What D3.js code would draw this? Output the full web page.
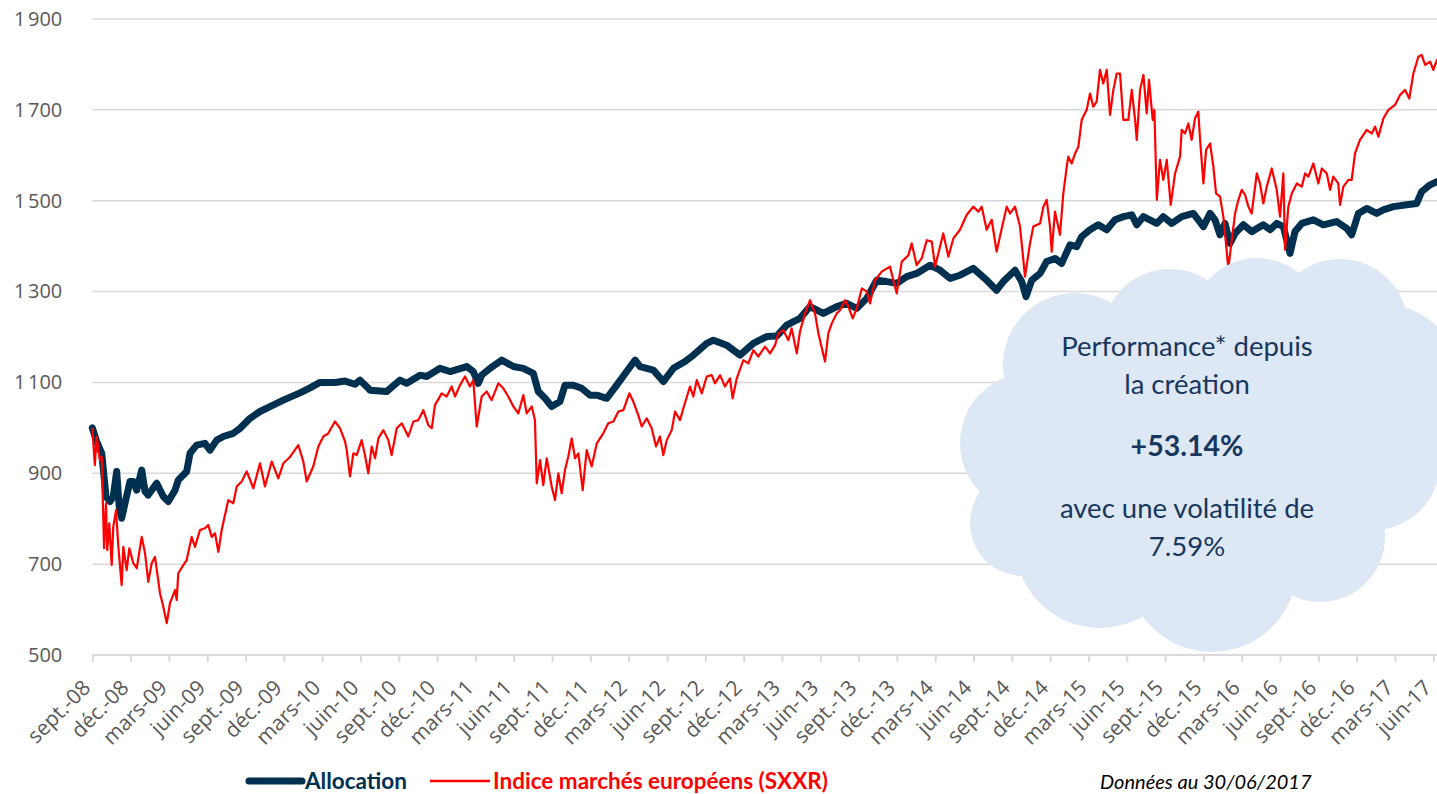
<!DOCTYPE html>
<html><head><meta charset="utf-8">
<script src="https://cdn.jsdelivr.net/npm/d3@7"></script>
<style>
html,body{margin:0;padding:0;background:#fff;}
svg{display:block;}
</style></head>
<body>
<svg id="chart" width="1437" height="794"></svg>
<script>
// ---- Data (x = months since sept. 2008) ----
const xLabels = ["sept.-08","déc.-08","mars-09","juin-09","sept.-09","déc.-09","mars-10","juin-10","sept.-10","déc.-10","mars-11","juin-11","sept.-11","déc.-11","mars-12","juin-12","sept.-12","déc.-12","mars-13","juin-13","sept.-13","déc.-13","mars-14","juin-14","sept.-14","déc.-14","mars-15","juin-15","sept.-15","déc.-15","mars-16","juin-16","sept.-16","déc.-16","mars-17","juin-17"];
const xTickMonths = [0,3,6,9,12,15,18,21,24,27,30,33,36,39,42,45,48,51,54,57,60,63,66,69,72,75,78,81,84,87,90,93,96,99,102,105];
const yTicks = [500,700,900,1100,1300,1500,1700,1900];

const allocation = [[0,1000],[0.34,970],[0.74,944],[1.07,849],[1.38,838],[1.64,849],[1.91,904],[2.11,826],[2.3,801],[2.56,834],[2.95,882],[3.21,882],[3.48,863],[3.87,907],[4.13,860],[4.38,852],[5.04,878],[5.56,849],[5.95,838],[6.48,863],[6.73,885],[7.39,904],[7.65,944],[8.17,962],[8.82,966],[9.22,951],[9.74,973],[10.26,981],[11.04,988],[11.57,999],[12.35,1021],[13.13,1036],[13.91,1047],[14.96,1061],[16.26,1077],[17.05,1088],[17.83,1100],[19.0,1100],[19.79,1103],[20.57,1096],[20.96,1105],[21.51,1090],[21.74,1083],[23.05,1080],[24.09,1105],[24.62,1098],[25.66,1116],[26.18,1113],[27.23,1131],[28.01,1124],[29.32,1135],[29.83,1124],[30.22,1098],[30.49,1116],[31.14,1131],[32.06,1149],[32.97,1135],[33.75,1131],[34.53,1120],[34.92,1080],[35.45,1065],[35.97,1047],[36.62,1058],[37.01,1094],[37.66,1094],[38.32,1087],[38.97,1072],[39.5,1072],[40.28,1065],[41.06,1094],[41.84,1124],[42.5,1149],[42.89,1135],[43.93,1127],[44.71,1102],[45.5,1131],[46.41,1146],[47.06,1160],[48.11,1186],[48.63,1193],[49.67,1182],[50.72,1160],[51.76,1186],[52.81,1201],[53.59,1202],[54.37,1226],[55.41,1241],[56.2,1267],[57.24,1252],[58.29,1267],[59.07,1274],[59.86,1263],[60.64,1285],[61.42,1325],[62.2,1322],[62.99,1318],[63.77,1333],[64.55,1340],[65.59,1358],[66.38,1347],[67.16,1329],[67.94,1336],[68.98,1351],[70.03,1325],[70.81,1303],[71.33,1322],[72.25,1347],[72.77,1322],[73.11,1289],[73.56,1325],[74.21,1340],[74.73,1366],[75.38,1373],[75.9,1362],[76.56,1403],[77.08,1399],[77.47,1421],[78.12,1436],[78.77,1447],[79.43,1436],[80.08,1458],[80.73,1465],[81.39,1469],[81.78,1447],[82.3,1465],[83.35,1450],[83.86,1465],[84.52,1450],[85.3,1465],[86.21,1472],[87.0,1443],[87.52,1472],[87.91,1458],[88.3,1425],[88.69,1450],[89.08,1406],[89.48,1428],[90.13,1447],[90.78,1432],[91.69,1447],[92.22,1436],[92.74,1450],[93.26,1443],[93.78,1384],[94.17,1432],[94.7,1450],[95.61,1458],[96.39,1447],[97.43,1454],[98.22,1439],[98.61,1425],[99.13,1472],[99.79,1483],[100.57,1472],[101.09,1480],[101.87,1487],[102.92,1491],[103.7,1494],[104.09,1520],[104.75,1535],[105.29,1542],[105.6,1545]];

const sxxr = [[0,1000],[0.2,918],[0.34,981],[0.6,929],[0.74,936],[0.92,735],[1.07,834],[1.17,731],[1.33,790],[1.52,698],[1.64,782],[1.86,819],[2.04,738],[2.3,654],[2.43,738],[2.69,687],[2.9,735],[3.21,702],[3.48,691],[3.87,760],[4.13,724],[4.38,661],[4.65,702],[4.91,716],[5.3,636],[5.56,606],[5.83,570],[6.08,614],[6.48,643],[6.61,621],[6.73,680],[7.13,698],[7.39,709],[7.78,760],[8.04,738],[8.43,775],[8.82,779],[9.08,786],[9.35,760],[9.61,768],[9.87,727],[10.13,775],[10.39,808],[10.65,841],[11.04,834],[11.31,871],[11.7,882],[12.09,904],[12.61,867],[13.13,922],[13.52,871],[14.05,926],[14.56,889],[14.96,922],[15.48,936],[16.13,962],[16.52,926],[16.79,882],[17.3,915],[17.7,959],[18.09,981],[18.48,988],[19.0,1014],[19.4,999],[19.79,970],[19.92,951],[20.18,893],[20.44,944],[20.7,940],[21.09,973],[21.35,940],[21.61,900],[21.88,959],[22.14,933],[22.4,977],[22.79,995],[23.18,973],[23.44,940],[23.84,999],[24.23,1010],[24.74,981],[25.14,1014],[25.53,1017],[25.92,1039],[26.31,1006],[26.58,999],[26.83,1050],[27.36,1076],[27.75,1069],[28.14,1091],[28.4,1069],[28.79,1094],[29.18,1113],[29.57,1091],[29.83,1105],[30.1,1003],[30.49,1069],[30.88,1080],[31.27,1061],[31.79,1098],[32.18,1087],[32.57,1069],[32.97,1047],[33.36,1032],[33.75,1072],[34.01,1032],[34.41,1047],[34.66,1017],[34.8,878],[35.06,929],[35.31,874],[35.58,933],[35.97,871],[36.23,841],[36.49,900],[36.75,856],[37.01,907],[37.27,937],[37.54,977],[37.8,933],[38.06,944],[38.4,863],[38.71,951],[39.1,915],[39.5,966],[40.01,988],[40.4,1010],[40.8,1014],[41.19,1036],[41.58,1039],[42.05,1076],[42.36,1058],[42.75,1028],[43.02,1003],[43.41,1021],[43.8,999],[44.14,959],[44.45,981],[44.71,940],[44.98,973],[45.37,995],[45.63,1036],[46.02,1017],[46.28,1043],[46.8,1091],[47.06,1069],[47.33,1105],[47.72,1076],[48.11,1113],[48.5,1116],[48.76,1098],[49.15,1116],[49.54,1091],[49.93,1109],[50.14,1065],[50.46,1109],[50.98,1149],[51.37,1142],[51.76,1171],[52.15,1157],[52.67,1179],[53.07,1164],[53.46,1182],[53.72,1208],[54.11,1215],[54.5,1193],[54.76,1219],[55.16,1164],[55.41,1212],[55.81,1252],[56.2,1281],[56.59,1252],[56.85,1208],[57.37,1146],[57.63,1208],[57.9,1230],[58.29,1252],[58.55,1259],[58.94,1281],[59.2,1267],[59.54,1241],[59.86,1263],[60.25,1307],[60.64,1300],[60.9,1274],[61.29,1325],[61.81,1344],[62.46,1355],[62.72,1325],[62.99,1296],[63.38,1366],[63.9,1380],[64.16,1406],[64.55,1358],[64.94,1373],[65.34,1413],[65.73,1410],[65.99,1355],[66.38,1399],[66.63,1428],[67.03,1377],[67.42,1417],[67.94,1436],[68.47,1469],[68.98,1487],[69.38,1476],[69.64,1487],[70.03,1436],[70.42,1458],[70.81,1388],[71.21,1439],[71.6,1487],[71.86,1472],[72.25,1487],[72.64,1443],[73.03,1333],[73.42,1406],[73.68,1443],[74.21,1450],[74.47,1487],[74.73,1502],[74.99,1443],[75.12,1388],[75.38,1476],[75.77,1425],[76.03,1516],[76.3,1575],[76.42,1597],[76.69,1582],[76.95,1604],[77.21,1619],[77.47,1678],[77.86,1700],[78.12,1736],[78.38,1707],[78.64,1718],[78.9,1788],[79.16,1758],[79.43,1788],[79.69,1689],[79.95,1744],[80.21,1780],[80.47,1780],[80.73,1678],[81.12,1678],[81.39,1744],[81.65,1678],[81.78,1634],[82.04,1744],[82.3,1777],[82.56,1692],[82.74,1766],[83.03,1678],[83.16,1700],[83.35,1502],[83.6,1590],[83.86,1546],[84.13,1590],[84.44,1491],[84.78,1560],[85.17,1597],[85.3,1656],[85.56,1648],[85.82,1670],[86.08,1634],[86.34,1681],[86.6,1696],[86.74,1634],[87.0,1538],[87.21,1612],[87.52,1626],[87.78,1575],[87.99,1516],[88.3,1509],[88.56,1465],[88.69,1428],[88.95,1351],[89.22,1414],[89.48,1472],[89.74,1502],[90.0,1524],[90.26,1513],[90.52,1487],[90.78,1472],[91.18,1560],[91.43,1538],[91.69,1494],[91.96,1531],[92.35,1571],[92.74,1524],[93.0,1465],[93.26,1560],[93.39,1392],[93.65,1487],[93.92,1516],[94.31,1538],[94.7,1531],[94.96,1560],[95.22,1553],[95.61,1582],[96.0,1538],[96.27,1571],[96.66,1560],[96.92,1524],[97.17,1553],[97.56,1538],[97.7,1491],[97.96,1531],[98.35,1546],[98.61,1546],[98.87,1604],[99.26,1634],[99.79,1656],[100.18,1648],[100.44,1663],[100.7,1641],[101.09,1681],[101.48,1700],[102.01,1711],[102.4,1733],[102.79,1744],[103.12,1725],[103.44,1780],[103.83,1817],[104.09,1821],[104.36,1799],[104.75,1806],[105.0,1788],[105.29,1810],[105.6,1800]];

const seriesNames = ["Allocation","Indice marchés européens (SXXR)"];
const cloudLines = ["Performance* depuis","la création","+53.14%","avec une volatilité de","7.59%"];
const footnote = "Données au 30/06/2017";

// ---- Layout ----
const W = 1437, H = 794;
const pLeft = 92.3, pRight = 1433.3, pTop = 19, pBottom = 655;
const svg = d3.select("#chart");
const x = d3.scaleLinear().domain([0,105]).range([pLeft,pRight]);
const y = d3.scaleLinear().domain([500,1900]).range([pBottom,pTop]);

const BLUE = "#00304f", RED = "#ff0000", GRID = "#d9d9d9", LABEL = "#595959";

// gridlines
svg.append("g").selectAll("line").data(yTicks.slice(1)).join("line")
  .attr("x1", pLeft).attr("x2", W).attr("y1", d=>y(d)).attr("y2", d=>y(d))
  .attr("stroke", GRID).attr("stroke-width", 1.5);

// y axis labels
const yAxis = d3.axisLeft(y).tickValues(yTicks).tickSize(0).tickPadding(30)
  .tickFormat(d => d3.format(",")(d).replace(",", "\u202F"));
const gy = svg.append("g").attr("transform", `translate(${pLeft},0)`).call(yAxis);
gy.select(".domain").remove();
gy.selectAll("text").attr("font-family","'Open Sans', sans-serif").attr("font-size",20).attr("fill",LABEL);

// x axis
const xAxis = d3.axisBottom(x).tickValues(xTickMonths).tickSize(7).tickFormat((d,i)=>xLabels[i]);
const gx = svg.append("g").attr("transform", `translate(0,${pBottom})`).call(xAxis);
gx.select(".domain").remove();
gx.selectAll(".tick line").attr("stroke", GRID).attr("stroke-width", 2);
gx.selectAll(".tick text")
  .attr("font-family","'Open Sans', sans-serif").attr("font-size",21).attr("fill",LABEL)
  .attr("text-anchor","end").attr("dy",null).attr("y",null)
  .attr("transform","translate(-1,34) rotate(-45)");
svg.append("line").attr("x1",pLeft).attr("x2",W).attr("y1",pBottom).attr("y2",pBottom)
  .attr("stroke",GRID).attr("stroke-width",2);

// lines
const line = d3.line().x(d=>x(d[0])).y(d=>y(d[1]));
svg.append("path").datum(allocation).attr("d",line).attr("fill","none")
  .attr("stroke",BLUE).attr("stroke-width",7).attr("stroke-linejoin","round").attr("stroke-linecap","round");
svg.append("path").datum(sxxr).attr("d",line).attr("fill","none")
  .attr("stroke",RED).attr("stroke-width",2.2).attr("stroke-linejoin","round");

// cloud
const cloud = svg.append("g").attr("fill","#dde8f4");
const bubbles = [[1075,365,72],[1170,337,68],[1257,323,65],[1340,327,68],[1377,393,90],[1373,463,67],
  [1320,537,65],[1212,567,85],[1100,543,85],[1023,523,53],[1030,443,70],[1200,450,150]];
cloud.selectAll("circle").data(bubbles).join("circle")
  .attr("cx",d=>d[0]).attr("cy",d=>d[1]).attr("r",d=>d[2]);
const cloudY = [356,394,456,518,556];
svg.append("g").selectAll("text").data(cloudLines).join("text")
  .attr("x",1187).attr("y",(d,i)=>cloudY[i]).attr("text-anchor","middle")
  .attr("font-family","Lato, sans-serif").attr("font-size",(d,i)=>i===2?28.5:27.5)
  .attr("font-weight",(d,i)=>i===2?"bold":"normal").attr("fill","#17375e").text(d=>d);

// legend
const lg = svg.append("g");
lg.append("line").attr("x1",249).attr("x2",302).attr("y1",781).attr("y2",781)
  .attr("stroke",BLUE).attr("stroke-width",7).attr("stroke-linecap","round");
lg.append("text").attr("x",305).attr("y",789).text(seriesNames[0])
  .attr("font-family","Lato, sans-serif").attr("font-size",22.5).attr("font-weight","bold").attr("fill",BLUE);
lg.append("line").attr("x1",430).attr("x2",490).attr("y1",781).attr("y2",781)
  .attr("stroke",RED).attr("stroke-width",2.5);
lg.append("text").attr("x",493).attr("y",789).text(seriesNames[1])
  .attr("font-family","Lato, sans-serif").attr("font-size",22.5).attr("font-weight","bold").attr("fill",RED);
svg.append("text").attr("x",1100).attr("y",789).text(footnote)
  .attr("font-family","Lato, sans-serif").attr("font-size",20).attr("font-style","italic").attr("fill","#000");
</script>
</body></html>
